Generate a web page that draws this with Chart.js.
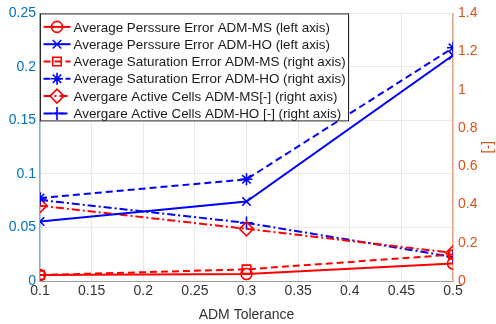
<!DOCTYPE html>
<html>
<head>
<meta charset="utf-8">
<script src="https://cdn.jsdelivr.net/npm/chart.js@4.4.1/dist/chart.umd.min.js"></script>
<style>
  body { margin: 0; background: #fff; }
  #chart { display: block; }
</style>
</head>
<body>
<canvas id="chart" width="496" height="324"></canvas>
<script>
// values
const tolerance = [0.1, 0.3, 0.5];
const pressMS = [0.0055, 0.0065, 0.0164];   // left axis
const pressHO = [0.0556, 0.0743, 0.2108];   // left axis
const satMS = [0.031, 0.061, 0.138];        // right axis
const satHO = [0.434, 0.532, 1.22];         // right axis
const cellsMS = [0.394, 0.273, 0.147];      // right axis
const cellsHO = [0.424, 0.304, 0.126];      // right axis

const seriesNames = [
  'Average Perssure Error ADM-MS (left axis)',
  'Average Perssure Error ADM-HO (left axis)',
  'Average Saturation Error ADM-MS (right axis)',
  'Average Saturation Error ADM-HO (right axis)',
  'Avergare Active Cells ADM-MS[-] (right axis)',
  'Avergare Active Cells ADM-HO [-] (right axis)'
];

const xTicks = [0.1, 0.15, 0.2, 0.25, 0.3, 0.35, 0.4, 0.45, 0.5];
const leftTicks = [0, 0.05, 0.1, 0.15, 0.2, 0.25];
const rightTicks = [0, 0.2, 0.4, 0.6, 0.8, 1, 1.2, 1.4];

const RED = '#ff0000';
const BLUE = '#0000ff';
const LEFT_C = '#0072BD';
const RIGHT_C = '#D95319';
const DASH = [7, 4];
const DASHDOT = [8, 3, 2, 3];

function pts(ys) {
  return tolerance.map((x, i) => ({x: x, y: ys[i]}));
}

function makeSet(i, ys, color, dash, style, axis, r) {
  return {
    label: seriesNames[i],
    data: pts(ys),
    yAxisID: axis,
    borderColor: color,
    backgroundColor: 'rgba(0,0,0,0)',
    borderWidth: 2,
    borderDash: dash,
    pointStyle: style,
    pointRadius: r,
    pointBorderWidth: 1.6,
    pointBorderColor: color,
    pointBackgroundColor: 'rgba(0,0,0,0)',
    tension: 0
  };
}

const datasets = [
  makeSet(0, pressMS, RED, [], 'circle', 'y', 5.5),
  makeSet(1, pressHO, BLUE, [], 'crossRot', 'y', 6),
  makeSet(2, satMS, RED, DASH, 'rect', 'y1', 6),
  makeSet(3, satHO, BLUE, DASH, 'star', 'y1', 6),
  makeSet(4, cellsMS, RED, DASHDOT, 'rectRot', 'y1', 7),
  makeSet(5, cellsHO, BLUE, DASHDOT, 'cross', 'y1', 6.5)
];

// legend box drawn inside the plot, top-left
const boxLegend = {
  id: 'boxLegend',
  afterDatasetsDraw(chart) {
    const ctx = chart.ctx;
    const area = chart.chartArea;
    const x0 = area.left + 0.5, y0 = area.top + 0.5;
    const w = 308, h = 107, rowH = 17.3;
    ctx.save();
    ctx.fillStyle = '#ffffff';
    ctx.fillRect(x0, y0, w, h);
    ctx.strokeStyle = '#262626';
    ctx.lineWidth = 1;
    ctx.strokeRect(x0, y0, w, h);
    ctx.font = '13.4px "Liberation Sans", Arial, sans-serif';
    ctx.textBaseline = 'middle';
    chart.data.datasets.forEach((ds, i) => {
      const cy = y0 + 13 + i * rowH;
      ctx.strokeStyle = ds.borderColor;
      ctx.lineWidth = 2;
      ctx.setLineDash(ds.borderDash);
      ctx.beginPath();
      ctx.moveTo(x0 + 3, cy);
      ctx.lineTo(x0 + 30, cy);
      ctx.stroke();
      ctx.setLineDash([]);
      ctx.fillStyle = 'rgba(0,0,0,0)';
      ctx.lineWidth = 1.6;
      Chart.helpers.drawPoint(ctx, {
        pointStyle: ds.pointStyle, rotation: 0,
        radius: ds.pointRadius, borderWidth: 1.6
      }, x0 + 16.5, cy);
      ctx.fillStyle = '#1a1a1a';
      ctx.fillText(ds.label, x0 + 33, cy + 1);
    });
    ctx.restore();
  }
};

const tickFont = {family: '"Liberation Sans", Arial, sans-serif', size: 14};

new Chart(document.getElementById('chart'), {
  type: 'line',
  data: {datasets: datasets},
  options: {
    responsive: false,
    animation: false,
    devicePixelRatio: 1,
    layout: {padding: {top: 11, left: 0, right: 0, bottom: 0}},
    plugins: {legend: {display: false}, tooltip: {enabled: false}},
    scales: {
      x: {
        type: 'linear',
        min: 0.1, max: 0.5,
        afterBuildTicks: (s) => { s.ticks = xTicks.map(v => ({value: v})); },
        afterFit: (s) => { s.height = 43; },
        ticks: {color: '#333333', font: tickFont, padding: 2, maxRotation: 0,
                callback: (v) => String(v)},
        grid: {color: '#e8e8e8', drawTicks: false},
        border: {color: '#9a9a9a', width: 1},
        title: {display: true, text: 'ADM Tolerance', color: '#333333', font: tickFont,
                padding: {top: 2, bottom: 0}}
      },
      y: {
        position: 'left',
        min: 0, max: 0.25,
        afterBuildTicks: (s) => { s.ticks = leftTicks.map(v => ({value: v})); },
        afterFit: (s) => { s.width = 40; },
        ticks: {color: LEFT_C, font: tickFont, padding: 4, callback: (v) => String(v)},
        grid: {color: '#e8e8e8', drawTicks: false},
        border: {color: '#7fb2d9', width: 1.5}
      },
      y1: {
        position: 'right',
        min: 0, max: 1.4,
        afterBuildTicks: (s) => { s.ticks = rightTicks.map(v => ({value: v})); },
        afterFit: (s) => { s.width = 43; },
        ticks: {color: RIGHT_C, font: tickFont, padding: 5, callback: (v) => String(v)},
        grid: {drawOnChartArea: false, drawTicks: false},
        border: {color: '#eba88a', width: 1.5},
        title: {display: true, text: '[-]', color: RIGHT_C, font: tickFont, padding: 0}
      }
    }
  },
  plugins: [boxLegend]
});
</script>
</body>
</html>
